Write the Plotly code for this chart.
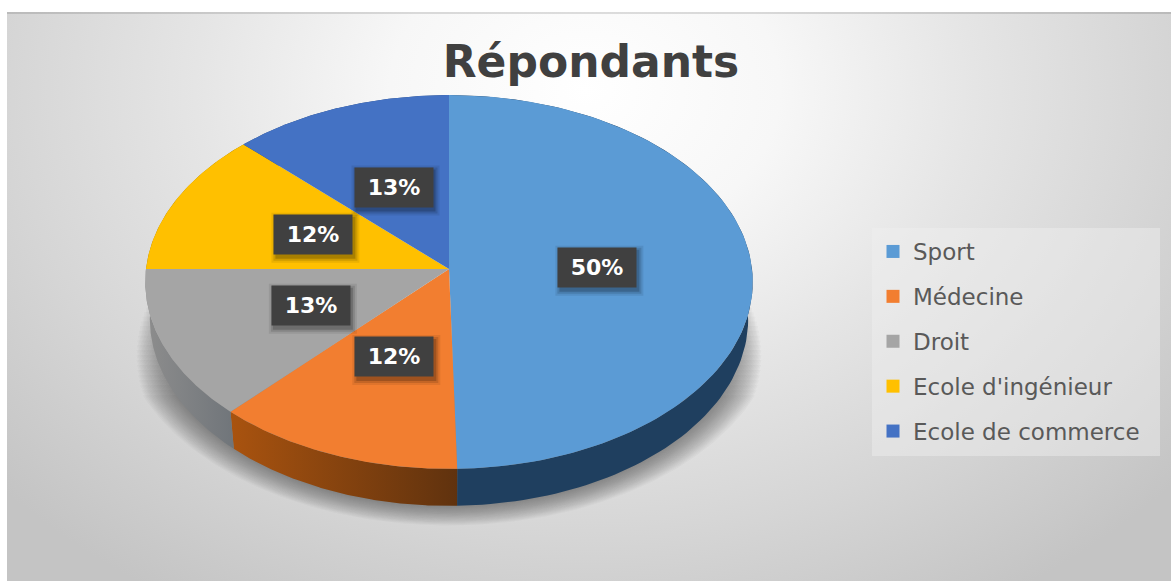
import base64
import numpy as np
import plotly.graph_objects as go

# --- data ---
categories = ["Sport", "Médecine", "Droit", "Ecole d'ingénieur", "Ecole de commerce"]
values = [49.6, 12.4, 13.0, 12.4, 12.6]
title_text = "Répondants"

# --- style ---
top_colors = ["#5b9bd5", "#f27e30", "#a5a5a5", "#ffc000", "#4472c4"]
side_colors = [("#1f3f5f", "#1f3f5f"), ("#a9530f", "#60320e"), ("#8d8d8d", "#70757a"),
               ("#997300", "#997300"), ("#264478", "#264478")]
W, H = 1171, 581
CX, CY, RX, RY, K = 449.0, 269.0, 303.0, 186.0, 0.0695
DEPTH = 37.0
SHRINK = 0.985


def project(theta, r=1.0, depth=0.0):
    """Perspective projection of a disc point; theta is clockwise from 12 o'clock."""
    u, v = r * np.sin(theta), r * np.cos(theta)
    d = 1 + K * v
    s = SHRINK if depth else 1.0
    return CX + s * RX * u / d, CY - RY * v / d + depth


fractions = np.array(values) / sum(values)
edges = np.concatenate([[0], np.cumsum(fractions)]) * 2 * np.pi

fig = go.Figure()

# soft ground shadow: wider layers cover a shorter stretch of the rim, so it fades upward
for s, spread in zip(np.linspace(1.10, 1.0, 22), np.linspace(0.36, 0.52, 22)):
    arc = np.linspace(np.pi * (1 - spread), np.pi * (1 + spread), 160)
    sx, sy = project(arc, depth=DEPTH)
    fig.add_trace(go.Scatter(
        x=CX + (sx - CX) * s, y=310 + (sy - 310) * s, mode="lines", fill="toself",
        line=dict(width=0), fillcolor="rgba(60,60,60,0.03)",
        hoverinfo="skip", showlegend=False))

# side walls
for i in range(len(values)):
    t = np.linspace(edges[i], edges[i + 1], 120)
    x0, y0 = project(t)
    x1, y1 = project(t, depth=DEPTH)
    c1, c2 = side_colors[i]
    fig.add_trace(go.Scatter(
        x=np.concatenate([x0, x1[::-1]]), y=np.concatenate([y0, y1[::-1]]),
        mode="lines", fill="toself", line=dict(width=0),
        fillgradient=dict(type="horizontal", colorscale=[[0, c1], [1, c2]]),
        hoverinfo="skip", showlegend=False))

# top faces
for i, name in enumerate(categories):
    t = np.linspace(edges[i], edges[i + 1], 120)
    x0, y0 = project(t)
    fig.add_trace(go.Scatter(
        x=np.concatenate([[CX], x0, [CX]]), y=np.concatenate([[CY], y0, [CY]]),
        mode="lines", fill="toself", line=dict(width=0), fillcolor=top_colors[i],
        name=name, hovertemplate=f"{name}: {values[i]}%<extra></extra>", showlegend=False))

# legend entries
for i, name in enumerate(categories):
    fig.add_trace(go.Scatter(
        x=[None], y=[None], mode="markers", name=name, legendgroup=name,
        marker=dict(symbol="square", size=13, color=top_colors[i])))

# data labels with soft shadows
shapes = [dict(type="rect", xref="x", yref="y", x0=872, x1=1160, y0=228, y1=456,
               fillcolor="rgba(240,240,240,0.45)", line=dict(width=0), layer="between")]
annotations = []
mids = (edges[:-1] + edges[1:]) / 2
for m, v in zip(mids, values):
    lx, ly = project(m, r=0.49)
    for grow, alpha in ((5, 0.08), (3, 0.12), (1, 0.18)):
        shapes.append(dict(type="rect", xref="x", yref="y",
                           x0=lx - 39 + 2 - grow, x1=lx + 39 + 2 + grow,
                           y0=ly - 20 + 3 - grow, y1=ly + 20 + 3 + grow,
                           fillcolor=f"rgba(0,0,0,{alpha})", line=dict(width=0), layer="above"))
    annotations.append(dict(
        x=lx, y=ly, xref="x", yref="y", text=f"{round(v)}%", showarrow=False,
        width=76, height=37, bgcolor="#404040", valign="middle",
        font=dict(family="DejaVu Sans", size=22, color="#ffffff", weight=700)))

# chart-area background (radial gradient)
svg = f"""<svg xmlns='http://www.w3.org/2000/svg' width='{W}' height='{H}'>
<defs><radialGradient id='g' gradientUnits='userSpaceOnUse' cx='0' cy='0' r='1'
 gradientTransform='translate(585 90) scale(780 600)'>
<stop offset='0' stop-color='#ffffff'/><stop offset='0.25' stop-color='#f7f7f7'/>
<stop offset='0.5' stop-color='#e5e5e5'/><stop offset='0.75' stop-color='#d5d5d5'/>
<stop offset='1' stop-color='#c4c4c4'/></radialGradient></defs>
<rect x='7' y='12' width='{W}' height='{H}' fill='url(#g)'/>
<rect x='7' y='12' width='{W}' height='2' fill='#000000' fill-opacity='0.12'/></svg>"""
bg = "data:image/svg+xml;base64," + base64.b64encode(svg.encode()).decode()

fig.update_layout(
    width=W, height=H, autosize=False,
    margin=dict(l=0, r=0, t=0, b=0),
    paper_bgcolor="#ffffff", plot_bgcolor="rgba(0,0,0,0)",
    title=dict(text=title_text, x=591 / W, xanchor="center", y=1 - 62 / H, yanchor="middle",
               font=dict(family="DejaVu Sans", size=44, color="#404040", weight=700)),
    xaxis=dict(range=[0, W], visible=False, fixedrange=True),
    yaxis=dict(range=[H, 0], visible=False, fixedrange=True),
    images=[dict(source=bg, xref="x", yref="y", x=0, y=0, sizex=W, sizey=H,
                 xanchor="left", yanchor="top", sizing="stretch", layer="below")],
    shapes=shapes, annotations=annotations,
    legend=dict(x=873 / W, xanchor="left", y=1 - 230 / H, yanchor="top",
                bgcolor="rgba(0,0,0,0)", traceorder="grouped", tracegroupgap=12,
                itemclick=False, itemdoubleclick=False,
                font=dict(family="DejaVu Sans", size=23, color="#595959")),
    showlegend=True,
)

fig.write_html("out.html", config={"displayModeBar": False},
               post_script="document.body.style.margin='0';document.body.style.overflow='hidden';")
